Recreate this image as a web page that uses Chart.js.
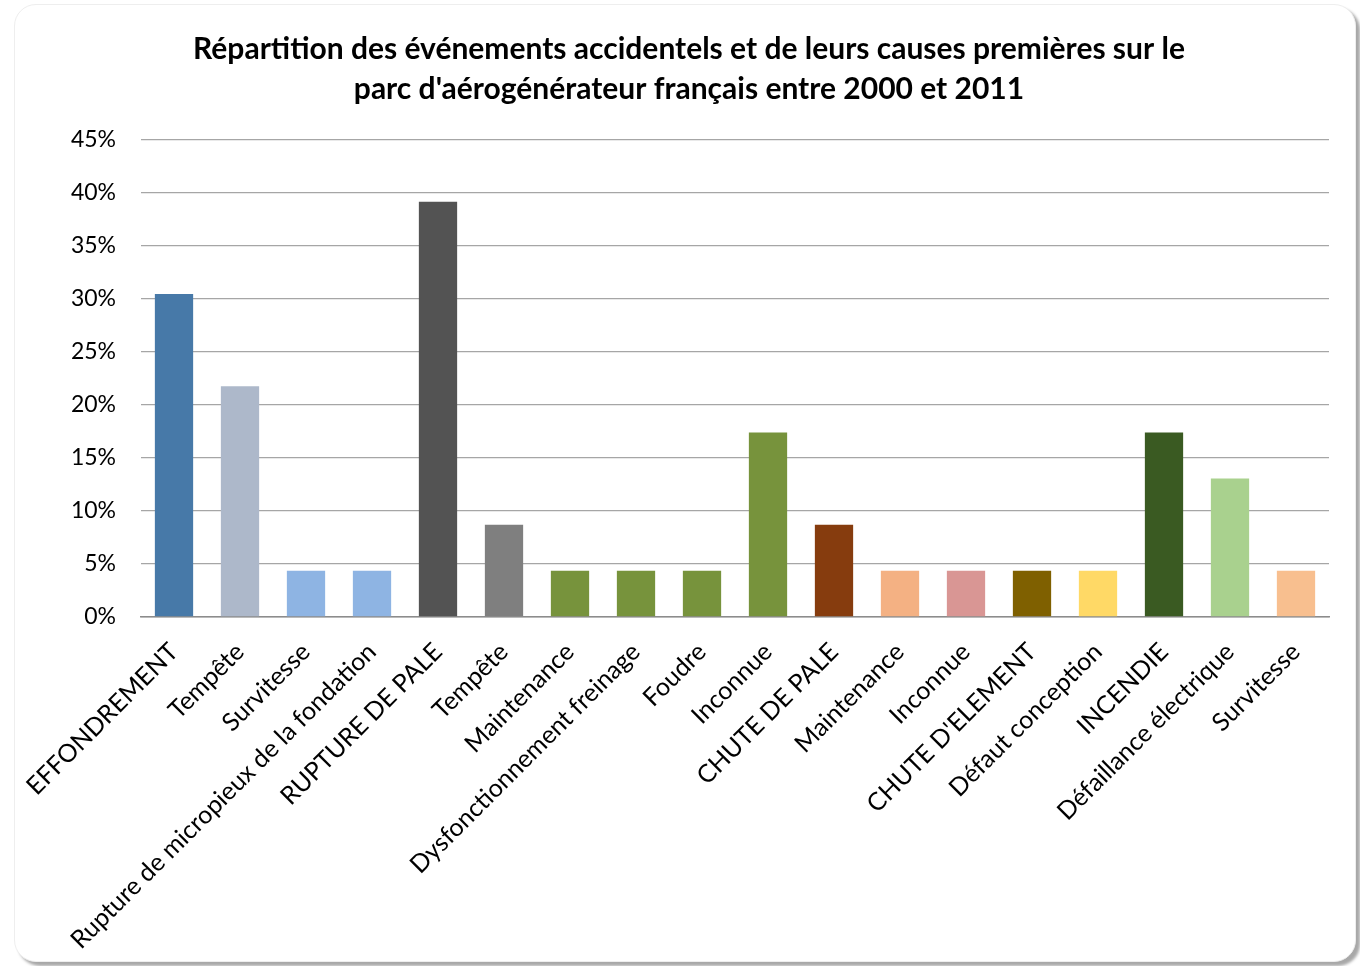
<!DOCTYPE html>
<html>
<head>
<meta charset="utf-8">
<script src="https://cdn.jsdelivr.net/npm/chart.js@4"></script>
<style>
  body { margin: 0; background: #fff; width: 1360px; height: 966px; overflow: hidden; }
  .frame {
    position: absolute; left: 14px; top: 4px; width: 1340px; height: 956px;
    background: #fff; border-radius: 22px;
    border: 1px solid #eee;
    box-shadow: 4px 4px 3px #a8a8a8;
  }
  canvas { position: absolute; left: 0; top: 0; }
</style>
</head>
<body>
<div class="frame"><canvas id="chart" width="1340" height="956"></canvas></div>
<script>
const titleLines = [
  "Répartition des événements accidentels et de leurs causes premières sur le",
  "parc d'aérogénérateur français entre 2000 et 2011"
];

const categories = [
  "EFFONDREMENT", "Tempête", "Survitesse", "Rupture de micropieux de la fondation",
  "RUPTURE DE PALE", "Tempête", "Maintenance", "Dysfonctionnement freinage",
  "Foudre", "Inconnue", "CHUTE DE PALE", "Maintenance", "Inconnue",
  "CHUTE D'ELEMENT", "Défaut conception", "INCENDIE", "Défaillance électrique", "Survitesse"
];

const values = [
  30.43, 21.74, 4.35, 4.35, 39.13, 8.7, 4.35, 4.35, 4.35,
  17.39, 8.7, 4.35, 4.35, 4.35, 4.35, 17.39, 13.04, 4.35
];

const barColors = [
  "#4779a8", "#adb8ca", "#8eb4e3", "#8eb4e3", "#535353", "#7f7f7f",
  "#77933c", "#77933c", "#77933c", "#77933c", "#863c0e", "#f4b183",
  "#d99694", "#7f6000", "#ffd966", "#3a5a22", "#a9d18e", "#f8bf8f"
];

const ctx = document.querySelector("#chart").getContext("2d");
new Chart(ctx, {
  type: "bar",
  data: {
    labels: categories,
    datasets: [{
      data: values,
      backgroundColor: barColors,
      barPercentage: 0.58,
      categoryPercentage: 1
    }]
  },
  options: {
    responsive: false,
    animation: false,
    layout: { padding: { left: 34, right: 26, top: 0, bottom: 0 } },
    plugins: {
      legend: { display: false },
      tooltip: { enabled: false },
      title: {
        display: true,
        text: titleLines,
        color: "#000",
        font: { family: "Lato", size: 30, weight: "bold", lineHeight: 1.34 },
        padding: { top: 24, bottom: 30 }
      }
    },
    scales: {
      x: {
        grid: { display: false, drawTicks: false },
        border: { color: "#8c8c8c", width: 1.5 },
        ticks: {
          color: "#000",
          font: { family: "Lato", size: 25 },
          minRotation: 45,
          maxRotation: 45,
          autoSkip: false,
          padding: 20
        },
        afterFit: (scale) => {
          scale.height = 344;
          scale.paddingLeft = 0;
          scale.paddingRight = 0;
        }
      },
      y: {
        min: 0,
        max: 45,
        grid: { color: "#a6a6a6", lineWidth: 1.3, drawTicks: false },
        border: { display: false },
        ticks: {
          stepSize: 5,
          color: "#000",
          padding: 25,
          font: { family: "Lato", size: 23 },
          callback: (v) => v + "%"
        },
        afterFit: (scale) => { scale.width = 92; }
      }
    }
  }
});
</script>
</body>
</html>
